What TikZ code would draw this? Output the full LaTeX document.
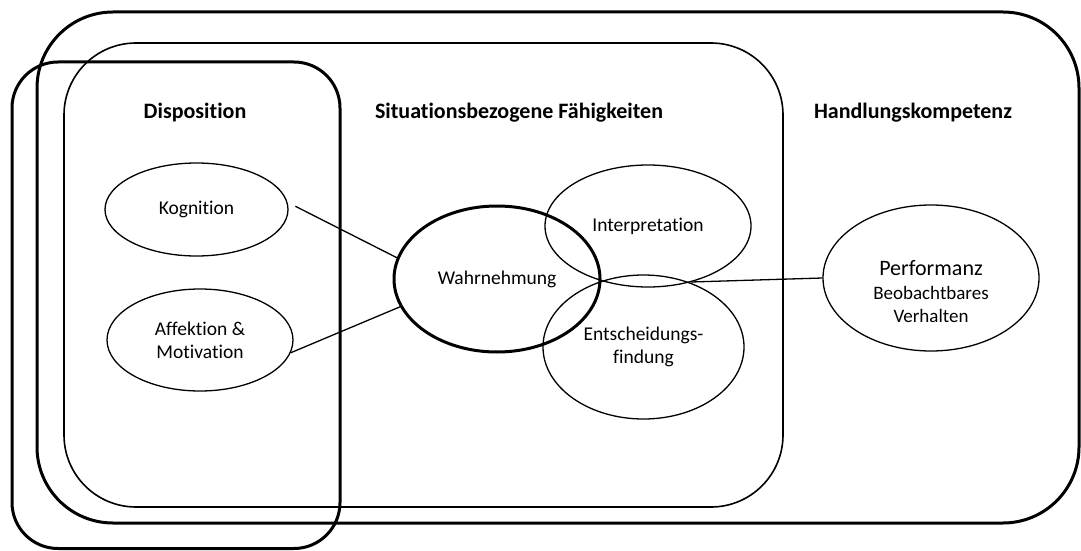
\documentclass[tikz,border=0pt]{standalone}
\usepackage{fontspec}
\setmainfont{Carlito}[Ligatures=NoCommon]
\usetikzlibrary{shapes.geometric}
\begin{document}
\begin{tikzpicture}[x=1pt,y=-1pt,
  heavyframe/.style={line width=3pt},
  lightframe/.style={line width=1.6pt},
  bubble/.style={draw, ellipse, line width=1.3pt, inner sep=0pt, align=center,
    font=\fontsize{19.5}{23}\selectfont},
  title/.style={anchor=base, font=\bfseries\fontsize{22}{26}\selectfont},
  link/.style={line width=1.3pt}]
\useasboundingbox (0,0) rectangle (1081,551);

% nested competence areas
\draw[heavyframe, rounded corners=76pt] (37,12) rectangle (1079,523);
\draw[lightframe, rounded corners=72pt] (64,43) rectangle (783,507);
\draw[heavyframe, rounded corners=46pt] (12,62) rectangle (340,548.5);

% area headings
\node[title] (tdisp) at (195,118) {Disposition};
\node[title] (tsit)  at (519,118) {Situationsbezogene Fähigkeiten};
\node[title] (thand) at (913,118) {Handlungskompetenz};

% disposition
\node[bubble, minimum width=183pt, minimum height=93pt]  (kog) at (196.5,209.5) {Kognition};
\node[bubble, minimum width=186pt, minimum height=102pt] (aff) at (200,340) {Affektion \&\\Motivation};

% situation-specific skills
\node[bubble, line width=3pt, minimum width=206pt, minimum height=146pt] (wahr) at (497,279) {Wahrnehmung};
\node[bubble, minimum width=206pt, minimum height=122pt] (interp) at (648,226) {Interpretation};
\node[bubble, minimum width=201pt, minimum height=144pt] (ent) at (643.5,347) {Entscheidungs-\\findung};

% performance
\node[bubble, minimum width=216pt, minimum height=146pt] (perf) at (931,278) {};
\node[align=center, inner sep=0pt, font=\fontsize{19}{23.5}\selectfont] (perftext) at (931,292)
  {{\fontsize{22}{24}\selectfont Performanz}\\Beobachtbares\\Verhalten};

% connectors
\coordinate (meet) at (691,282);
\draw[link] ([xshift=7pt]kog.2) -- (wahr.168);
\draw[link] (aff.-8) -- (wahr.196);
\draw[link] (meet) -- (perf.west);
\end{tikzpicture}
\end{document}
